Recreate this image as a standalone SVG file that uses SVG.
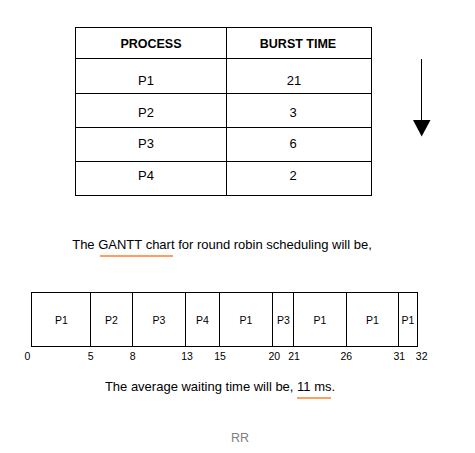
<svg xmlns="http://www.w3.org/2000/svg" width="475" height="453" viewBox="0 0 475 453">
<defs>
<style>
.ln{fill:none;stroke:#000;stroke-width:1}
.t{font-family:"Liberation Sans",Arial,sans-serif;fill:#000;text-anchor:middle}
.h{font-size:12.5px;font-weight:bold}
.c{font-size:13px}
.g{font-size:10.5px}
.s{font-size:13px}
.u{stroke:#ff7f27;stroke-width:1.3}
</style>
</defs>
<rect width="475" height="453" fill="#fff"/>
<g id="table">
<rect class="ln" x="75.5" y="27.5" width="296" height="168"/>
<path class="ln" d="M226.5 27.5V195.5M75.5 58.5H371.5M75.5 93.5H371.5M75.5 127.5H371.5M75.5 161.5H371.5"/>
<text class="t h" x="151" y="48">PROCESS</text>
<text class="t h" x="298" y="48">BURST TIME</text>
<text class="t c" x="146" y="84.5">P1</text>
<text class="t c" x="294" y="84.5">21</text>
<text class="t c" x="146" y="116.5">P2</text>
<text class="t c" x="293" y="116.5">3</text>
<text class="t c" x="146" y="148">P3</text>
<text class="t c" x="293" y="148">6</text>
<text class="t c" x="146" y="180">P4</text>
<text class="t c" x="293" y="180">2</text>
</g>
<g id="connectors">
<line class="ln" x1="421.5" y1="59" x2="421.5" y2="122"/>
<polygon points="413,120 430.5,120 421.7,136.5" fill="#000"/>
</g>
<g id="caption1">
<text class="t s" x="222" y="249">The GANTT chart for round robin scheduling will be,</text>
<line class="u" x1="100" y1="256" x2="173" y2="256"/>
</g>
<g id="gantt">
<rect class="ln" x="31.5" y="292.5" width="386" height="54"/>
<path class="ln" d="M90.5 292.5V346.5M132.5 292.5V346.5M185.5 292.5V346.5M219.5 292.5V346.5M272.5 292.5V346.5M293.5 292.5V346.5M346.5 292.5V346.5M398.5 292.5V346.5"/>
<text class="t g" x="61.5" y="324">P1</text>
<text class="t g" x="111.5" y="324">P2</text>
<text class="t g" x="159" y="324">P3</text>
<text class="t g" x="202.5" y="324">P4</text>
<text class="t g" x="246" y="324">P1</text>
<text class="t g" x="283.5" y="324">P3</text>
<text class="t g" x="320" y="324">P1</text>
<text class="t g" x="372.5" y="324">P1</text>
<text class="t g" x="408" y="324">P1</text>
<text class="t g" x="27.5" y="359.5">0</text>
<text class="t g" x="90.7" y="359.5">5</text>
<text class="t g" x="132.7" y="359.5">8</text>
<text class="t g" x="187" y="359.5">13</text>
<text class="t g" x="220" y="359.5">15</text>
<text class="t g" x="274.3" y="359.5">20</text>
<text class="t g" x="294" y="359.5">21</text>
<text class="t g" x="346.3" y="359.5">26</text>
<text class="t g" x="399.3" y="359.5">31</text>
<text class="t g" x="421.7" y="359.5">32</text>
</g>
<g id="caption2">
<text class="t s" x="220" y="390.5">The average waiting time will be, 11 ms.</text>
<line class="u" x1="297" y1="398" x2="331" y2="398"/>
</g>
<g id="title">
<text class="t" x="240" y="441.5" style="font-size:12.5px;fill:#808080">RR</text>
</g>
</svg>
